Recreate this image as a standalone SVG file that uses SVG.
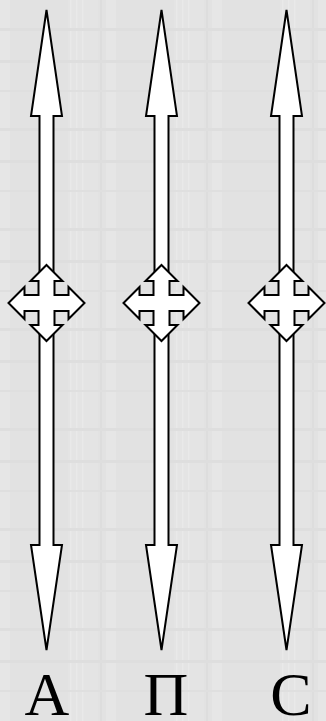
<svg xmlns="http://www.w3.org/2000/svg" width="326" height="721" viewBox="0 0 326 721">
<defs>
<pattern id="bg" width="106" height="100" patternUnits="userSpaceOnUse">
<rect width="106" height="100" fill="#e2e2e2"/>
<rect x="0" y="0" width="10" height="100" fill="#e6e6e6"/>
<rect x="68" y="0" width="30" height="100" fill="#e4e4e4"/>
<rect x="70" y="0" width="1.5" height="100" fill="#e9e9e9"/>
<rect x="76" y="0" width="1.5" height="100" fill="#e9e9e9"/>
<rect x="82" y="0" width="1.5" height="100" fill="#e9e9e9"/>
<rect x="100" y="0" width="2" height="100" fill="#dddddd"/>
<rect x="0" y="28" width="106" height="3" fill="#dedede"/>
<rect x="0" y="60" width="106" height="3" fill="#dedede"/>
<rect x="0" y="90" width="106" height="2" fill="#dfdfdf"/>
</pattern>
<style>
.sh{fill:#fff;stroke:#000;stroke-width:2;stroke-linejoin:miter}
.lbl{font-family:"Liberation Serif","Times New Roman",serif;font-size:62px;fill:#000;text-anchor:middle}
</style>
<path id="dbl" class="sh" d="M0,10 L15.5,116 L7,116 L7,545 L15.5,545 L0,650 L-15.5,545 L-7,545 L-7,116 L-15.5,116 Z"/>
<path id="crs" class="sh" d="M0,-38 L16,-22 L8,-22 L8,-8 L22,-8 L22,-16 L38,0 L22,16 L22,8 L8,8 L8,22 L16,22 L0,38 L-16,22 L-8,22 L-8,8 L-22,8 L-22,16 L-38,0 L-22,-16 L-22,-8 L-8,-8 L-8,-22 L-16,-22 Z"/>
</defs>
<rect width="326" height="721" fill="url(#bg)"/>
<g id="connectors">
<use href="#dbl" x="46.5" y="0"/>
<use href="#dbl" x="161.5" y="0"/>
<use href="#dbl" x="286.5" y="0"/>
</g>
<g id="node-A">
<use href="#crs" x="46.5" y="303"/>
<text class="lbl" x="47" y="715">А</text>
</g>
<g id="node-P">
<use href="#crs" x="161.5" y="303"/>
<text class="lbl" x="166" y="715">П</text>
</g>
<g id="node-C">
<use href="#crs" x="286.5" y="303"/>
<text class="lbl" x="291" y="715">С</text>
</g>
</svg>
